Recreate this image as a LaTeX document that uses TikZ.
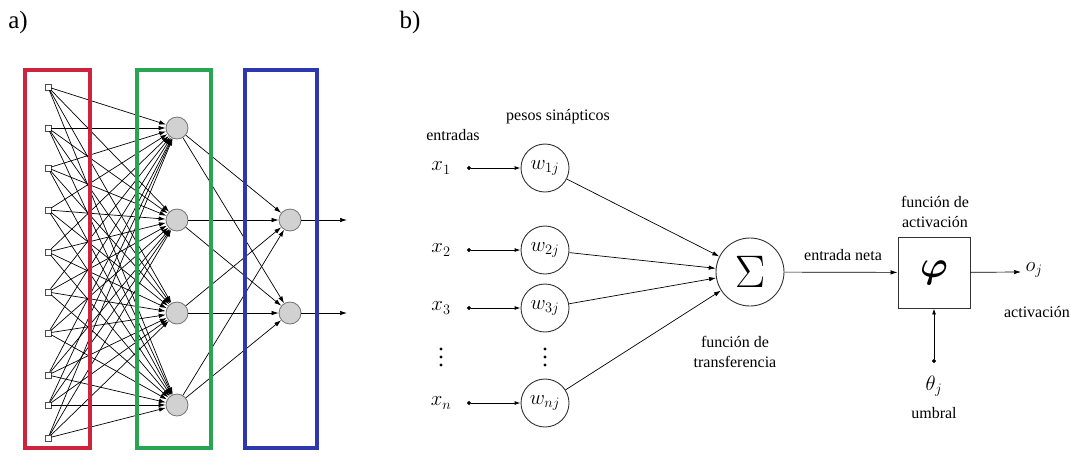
\documentclass[tikz,border=0pt]{standalone}
\usepackage{amsmath}
\usepackage{graphicx}
\usepackage{fontspec}
\setmainfont{Liberation Serif}
\usetikzlibrary{arrows.meta}
\definecolor{boxred}{RGB}{205,35,60}
\definecolor{boxgreen}{RGB}{40,165,80}
\definecolor{boxblue}{RGB}{45,55,175}
\begin{document}
\begin{tikzpicture}[x=1pt,y=-1pt,
  inp/.style={draw=black!70,fill=white,minimum size=6pt,inner sep=0pt,line width=0.6pt},
  hid/.style={circle,draw=black!55,fill=black!18,minimum size=22pt,inner sep=0pt,line width=0.8pt},
  syn/.style={circle,draw=black!80,minimum size=48pt,inner sep=0pt,line width=0.9pt},
  lbl/.style={font=\fontsize{16}{20}\selectfont,align=center},
  mth/.style={font=\fontsize{21}{24}\selectfont,inner sep=0pt},
  conn/.style={line width=0.7pt,-{Latex[length=7pt,width=4.5pt]}},
  feed/.style={line width=0.9pt,{Circle[length=4pt]}-{Latex[length=6pt,width=4pt]}},
  frame/.style={line width=4pt}]
\useasboundingbox (0,0) rectangle (1071,459);
\node[font=\fontsize{25}{28}\selectfont] (la) at (18,22) {a)};
\node[font=\fontsize{25}{28}\selectfont] (lb) at (410,22) {b)};
\foreach \y [count=\i] in {87,128,168,210,252,292,333,375,405,438}
  \node[inp] (i\i) at (48,\y) {};
\foreach \y [count=\j] in {128,220,313,405}
  \node[hid] (h\j) at (177,\y) {};
\foreach \y [count=\k] in {220,313}{
  \node[hid] (o\k) at (290,\y) {};
  \coordinate (e\k) at (347,\y);
  \draw[conn] (o\k) -- (e\k);
}
\foreach \i in {1,...,10}
  \foreach \j in {1,...,4}
    \draw[conn] (i\i) -- (h\j);
\foreach \j in {1,...,4}
  \foreach \k in {1,2}
    \draw[conn] (h\j) -- (o\k);
\draw[frame,boxred] (25,70) rectangle (90,448);
\draw[frame,boxgreen] (137,70) rectangle (211,448);
\draw[frame,boxblue] (245,70) rectangle (317,448);
\node[lbl] (pesos) at (558,117) {pesos sinápticos};
\node[lbl] (entr) at (453,135) {entradas};
\node[circle,draw=black!80,line width=0.9pt,minimum size=68pt,inner sep=0pt,font=\fontsize{20}{24}\selectfont] (sum) at (750,272)
  {\scalebox{2.2}{$\Sigma$}};
\foreach \y/\n/\xl/\wl in {168/1/{x_1}/{w_{1j}},250/2/{x_2}/{w_{2j}},308/3/{x_3}/{w_{3j}},403/4/{x_n}/{w_{nj}}}{
  \node[mth] (x\n) at (441,\y) {$\xl$};
  \node[syn,mth] (w\n) at (545,\y) {$\wl$};
  \coordinate (d\n) at (467,\y);
  \draw[feed] (d\n) -- (w\n);
  \draw[conn] (w\n) -- (sum);
}
\foreach \y in {349,357,365}{
  \fill (441,\y) circle (1.6);
  \fill (545,\y) circle (1.6);
}
\node[draw=black!80,line width=0.9pt,minimum width=72pt,minimum height=71pt,inner sep=0pt,font=\fontsize{20}{24}\selectfont] (phi) at (934,272.5)
  {\scalebox{1.8}{$\boldsymbol{\varphi}$}};
\draw[conn] (sum) -- (phi);
\node[lbl] (neta) at (843,255) {entrada neta};
\node[lbl] (transf) at (735,352) {función de\\transferencia};
\node[lbl] (activ) at (935,212) {función de\\activación};
\coordinate (oend) at (1021,272);
\draw[conn] (phi) -- (oend);
\node[mth] (oj) at (1034,270) {$o_j$};
\node[lbl] (act) at (1037,312) {activación};
\coordinate (th) at (934,363);
\draw[feed] (th) -- (phi);
\node[mth] (thj) at (934,386) {$\theta_j$};
\node[lbl] (umb) at (934,413) {umbral};
\end{tikzpicture}
\end{document}
